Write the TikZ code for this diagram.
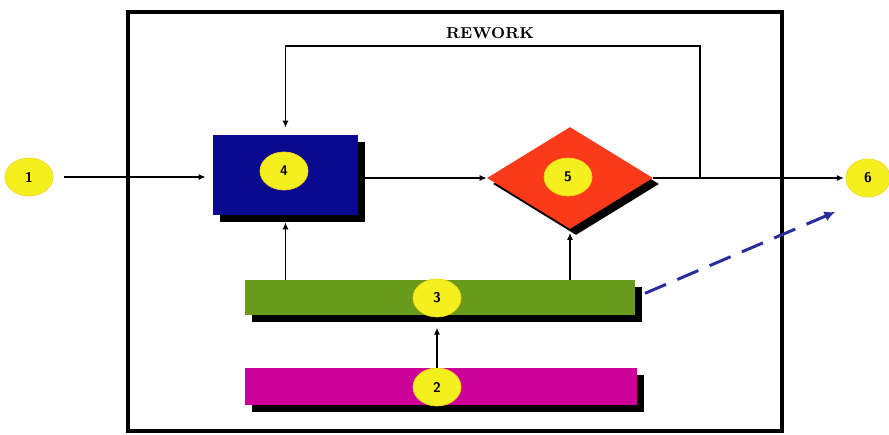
\documentclass[tikz,border=0pt]{standalone}
\usepackage{xcolor}
\usetikzlibrary{arrows.meta,shapes.geometric,shadows}
\definecolor{boxblue}{HTML}{0A0A8E}
\definecolor{diared}{HTML}{FA3A18}
\definecolor{bargreen}{HTML}{6A9A1C}
\definecolor{basemag}{HTML}{CC0099}
\definecolor{dotyellow}{HTML}{F4F020}
\definecolor{dashblue}{HTML}{2B2BA0}
\tikzset{
    flow/.style={line width=1.1pt, -{Latex[length=4pt,width=3.5pt]}},
    num/.style={ellipse, fill=dotyellow, draw=dotyellow!75!orange, line width=0.4pt,
        minimum width=0.96cm, minimum height=0.76cm, inner sep=0pt,
        font=\sffamily\bfseries\footnotesize},
    solid box/.style={rectangle, inner sep=0pt,
        drop shadow={shadow xshift=0.14cm, shadow yshift=-0.14cm, fill=black, opacity=1}},
}

\begin{document}
\begin{tikzpicture}[x=0.02cm, y=-0.02cm]
        \useasboundingbox (0,0) rectangle (889,435);
        % outer frame
        \draw[line width=2.8pt] (128,12) rectangle (782,431);
        % blocks
        \node[solid box, fill=boxblue, minimum width=2.9cm, minimum height=1.6cm] (box) at (285.5,175) {};
        \node[diamond, fill=diared, inner sep=0pt, aspect=1.63, minimum width=3.32cm, minimum height=2.04cm,
            drop shadow={shadow xshift=0.12cm, shadow yshift=-0.12cm, fill=black, opacity=1}] (dia) at (570,178) {};
        \node[solid box, fill=bargreen, minimum width=7.8cm, minimum height=0.7cm] (bar) at (440,297.5) {};
        \node[solid box, fill=basemag, minimum width=7.84cm, minimum height=0.74cm] (base) at (441,386.5) {};
        % numbered dots
        \node[num] (c1) at (29,177) {1};
        \node[num] (c4) at (284,171) {4};
        \node[num] (c5) at (568,177) {5};
        \node[num] (c3) at (437,298) {3};
        \node[num] (c2) at (437,387) {2};
        \node[num, minimum width=0.88cm] (c6) at (868,178) {6};
        % rework loop
        \coordinate (rw) at (700,178);
        \coordinate (rwtop) at (700,46);
        \node[font=\bfseries\small] (rwlabel) at (490,33) {REWORK};
        % connectors
        \draw[flow, shorten <=6pt, shorten >=4pt] (c1) -- (box.west |- c1);
        \draw[flow, shorten <=4pt] (box.east |- dia) -- (dia.west);
        \draw[flow, shorten >=1pt] (dia.east) -- (c6);
        \draw[flow, shorten >=4pt] (rw) -- (rwtop) -| (box.north);
        \draw[flow, shorten >=4pt] (box.south |- bar.north) -- (box.south);
        \draw[flow, shorten >=2pt] (dia.south |- bar.north) -- (dia.south);
        \draw[flow, shorten >=7pt] (base.north -| c2) -- (bar.south -| c3);
        \coordinate (dashend) at (835,212);
        \draw[dashblue, line width=1.7pt, dash pattern=on 13pt off 7pt,
            -{Latex[length=6pt,width=6pt]}, shorten <=6pt] (bar.east) -- (dashend);
    \end{tikzpicture}
\end{document}
